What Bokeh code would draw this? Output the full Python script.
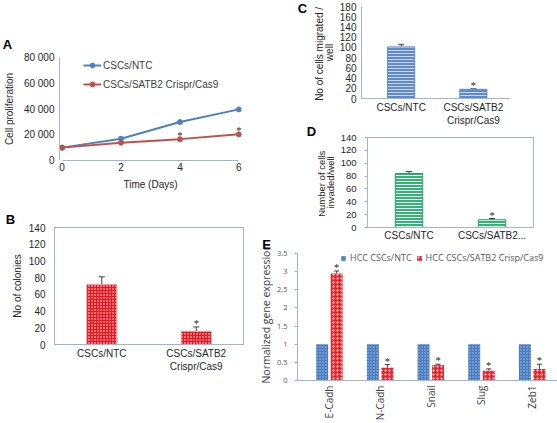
import math
import numpy as np
from bokeh.plotting import figure
from bokeh.models import (Range1d, FixedTicker, Legend, LegendItem, LabelSet,
                          Whisker, TeeHead, ColumnDataSource)
from bokeh.embed import file_html
from bokeh.resources import INLINE
from bokeh.core.properties import value

# ---------------- data ----------------
panel_letters = ["A", "B", "C", "D", "E"]

days = [0, 2, 4, 6]
prolif_ntc = [10000, 16900, 29900, 39700]
prolif_satb2 = [10000, 13800, 16600, 20300]
prolif_sig = [False, False, True, True]
prolif_yticks = [0, 20000, 40000, 60000, 80000]
prolif_ytick_labels = ["0", "20 000", "40 000", "60 000", "80 000"]
prolif_series = ["CSCs/NTC", "CSCs/SATB2 Crispr/Cas9"]

group_labels = ["CSCs/NTC", "CSCs/SATB2\nCrispr/Cas9"]
group_labels_d = ["CSCs/NTC", "CSCs/SATB2..."]

colonies = [72, 16]
colonies_err = [9, 5]
colonies_sig = [False, True]
colonies_yticks = [0, 20, 40, 60, 80, 100, 120, 140]

migrated = [101, 18]
migrated_err = [5, 1]
migrated_sig = [False, True]
migrated_yticks = [0, 20, 40, 60, 80, 100, 120, 140, 160, 180]

invaded = [84, 12]
invaded_err = [3, 2]
invaded_sig = [False, True]
invaded_yticks = [0, 20, 40, 60, 80, 100, 120, 140]

genes = ["E-Cadh", "N-Cadh", "Snail", "Slug", "Zeb1"]
expr_series = ["HCC CSCs/NTC", "HCC CSCs/SATB2 Crisp/Cas9"]
expr_ntc = [1.0, 1.0, 1.0, 1.0, 1.0]
expr_satb2 = [2.95, 0.35, 0.43, 0.27, 0.32]
expr_satb2_err = [0.07, 0.09, 0.02, 0.05, 0.13]
expr_satb2_sig = [True, True, True, True, True]
expr_yticks = [0, 0.5, 1, 1.5, 2, 2.5, 3, 3.5]
expr_ytick_labels = ["0", "0.5", "1", "1.5", "2", "2.5", "3", "3.5"]

# ---------------- style ----------------
FONT = "Liberation Sans"
EFONT = "Open Sans"
AXIS_BLUE = "#9fb4da"
TXT = "#262626"
BLUE = "#4f81bd"
RED = "#c0504d"


def pos(x, y):
    return {"position": "absolute", "left": f"{x}px", "top": f"{y}px"}


def make_fig(x, y, w, h, frame, xr, yr, outline=None):
    left, top, fw, fh = frame
    p = figure(width=w, height=h, x_range=xr, y_range=yr, output_backend="svg",
               toolbar_location=None, min_border_left=left,
               min_border_right=w - left - fw, min_border_top=top,
               min_border_bottom=h - top - fh, styles=pos(x, y))
    p.grid.visible = False
    p.outline_line_color = outline
    p.background_fill_color = None
    p.border_fill_color = None
    return p


def style_axis(ax, font, size, color, standoff, line_color, tick_out=0):
    ax.axis_line_color = line_color
    ax.major_tick_line_color = line_color if tick_out else None
    ax.major_tick_out = tick_out
    ax.major_tick_in = 0
    ax.minor_tick_line_color = None
    ax.major_label_text_font = font
    ax.major_label_text_font_size = size
    ax.major_label_text_color = color
    ax.major_label_standoff = standoff


def axis_title(ax, text, font=FONT, size="10px", color=TXT, standoff=5, line_height=1.0):
    ax.axis_label = text
    ax.axis_label_text_font = font
    ax.axis_label_text_font_size = size
    ax.axis_label_text_font_style = "normal"
    ax.axis_label_text_color = color
    ax.axis_label_standoff = standoff
    ax.axis_label_text_line_height = line_height


def add_errors(p, xs, vals, errs, color="#404040", head=6):
    src = ColumnDataSource(dict(x=list(xs), v=list(vals),
                                top=[v + e for v, e in zip(vals, errs)]))
    p.add_layout(Whisker(source=src, base="x", lower="v", upper="top",
                         line_color=color, line_width=1,
                         upper_head=TeeHead(size=head, line_color=color, line_width=1),
                         lower_head=None))


def add_stars(p, xs, tops, sig, size="10.5px"):
    src = ColumnDataSource(dict(x=[x for x, s in zip(xs, sig) if s],
                                y=[t for t, s in zip(tops, sig) if s]))
    src.data["t"] = ["*"] * len(src.data["x"])
    p.add_layout(LabelSet(x="x", y="y", text="t", source=src, text_font=FONT,
                          text_font_size=size, text_color="#262626",
                          text_align="center", text_baseline="alphabetic",
                          y_offset=0))


def letter_fig(letter, cx, cy):
    p = figure(width=20, height=20, x_range=Range1d(0, 1), y_range=Range1d(0, 1),
               x_axis_type=None, y_axis_type=None, min_border=0,
               toolbar_location=None, output_backend="svg",
               styles=pos(cx - 10, cy - 10))
    p.outline_line_color = None
    p.background_fill_color = None
    p.border_fill_color = None
    p.grid.visible = False
    p.text(x=[0.5], y=[0.5], text=[letter], text_font=value(FONT),
           text_font_size="13px", text_font_style="bold", text_color="#000000",
           text_align="center", text_baseline="middle")
    return p


# ---------------- A: proliferation ----------------
pa = make_fig(0, 0, 260, 200, (55, 57, 186, 103), Range1d(-0.09, 6.09), Range1d(0, 80000))
style_axis(pa.xaxis[0], FONT, "10px", TXT, 2, AXIS_BLUE)
style_axis(pa.yaxis[0], FONT, "10px", TXT, 5, AXIS_BLUE)
pa.xaxis.ticker = FixedTicker(ticks=days)
pa.xaxis.bounds = (days[0], days[-1])
pa.yaxis.ticker = FixedTicker(ticks=prolif_yticks)
pa.yaxis.major_label_overrides = {t: l for t, l in zip(prolif_yticks, prolif_ytick_labels)}
axis_title(pa.xaxis[0], "Time (Days)", standoff=5)
axis_title(pa.yaxis[0], "Cell proliferation", standoff=6)
r1 = pa.line(days, prolif_ntc, line_color=BLUE, line_width=2)
m1 = pa.scatter(days, prolif_ntc, marker="circle", size=5, color=BLUE)
r2 = pa.line(days, prolif_satb2, line_color=RED, line_width=2)
m2 = pa.scatter(days, prolif_satb2, marker="circle", size=5, color=RED)
add_stars(pa, days, prolif_satb2, prolif_sig)
leg_a = Legend(items=[LegendItem(label=prolif_series[0], renderers=[r1, m1]),
                      LegendItem(label=prolif_series[1], renderers=[r2, m2])],
               location=(24, 70), orientation="vertical", padding=0, margin=0,
               spacing=7, label_height=12, glyph_height=12, glyph_width=18,
               label_standoff=2, label_text_font=FONT, label_text_font_size="10px",
               label_text_color="#404040", border_line_color=None,
               background_fill_alpha=0)
pa.add_layout(leg_a)


def bar_panel(x, y, w, h, frame, xr, yr, yticks, labels, vals, errs, sig, bw,
              fill, hatch_pattern, hatch_color, hatch_scale, bar_line,
              outline=None, y_standoff=7, x_standoff=3, line_height=1.2,
              ytick_out=0, tick_size="10px", hatch_weight=1):
    p = make_fig(x, y, w, h, frame, xr, yr, outline=outline)
    style_axis(p.xaxis[0], FONT, "10px", TXT, x_standoff, AXIS_BLUE)
    style_axis(p.yaxis[0], FONT, tick_size, TXT, y_standoff, AXIS_BLUE, tick_out=ytick_out)
    xs = list(np.arange(len(vals)) + 0.5)
    p.xaxis.ticker = FixedTicker(ticks=xs)
    p.xaxis.major_label_overrides = {float(v): l for v, l in zip(xs, labels)}
    p.xaxis.major_label_text_line_height = line_height
    p.yaxis.ticker = FixedTicker(ticks=yticks)
    p.vbar(x=xs, top=vals, bottom=0, width=bw, fill_color=fill,
           hatch_pattern=hatch_pattern, hatch_color=hatch_color,
           hatch_scale=hatch_scale, hatch_weight=hatch_weight,
           line_color=bar_line, line_width=1)
    add_errors(p, xs, vals, errs)
    add_stars(p, xs, [v + e for v, e in zip(vals, errs)], sig)
    return p


# ---------------- B: colonies ----------------
pb = bar_panel(0, 200, 260, 190, (54, 27, 189, 117), Range1d(0, 2), Range1d(0, 140),
               colonies_yticks, group_labels, colonies, colonies_err, colonies_sig, 0.32,
               "#e8161f", "dot", "#ffffff", 3, "#c8b8c8",
               outline=AXIS_BLUE, y_standoff=9, x_standoff=3)
axis_title(pb.yaxis[0], "No of colonies", standoff=3)

# ---------------- C: migration ----------------
pc = bar_panel(290, 0, 267, 128, (71, 6, 148, 95), Range1d(-0.049, 2.0), Range1d(0, 180),
               migrated_yticks, group_labels, migrated, migrated_err, migrated_sig, 0.375,
               "#5f89c9", "horizontal_line", "#c9d7ef", 3, "#5f89c9",
               outline=None, y_standoff=5, x_standoff=3, line_height=1.2)
axis_title(pc.yaxis[0], "No of  cells migrated /\nwell", standoff=2, line_height=0.93)

# ---------------- D: invasion ----------------
pdv = bar_panel(290, 125, 267, 118, (77, 12, 166, 90), Range1d(0, 2), Range1d(0, 140),
                invaded_yticks, group_labels_d, invaded, invaded_err, invaded_sig, 0.33,
                "#2fb574", "horizontal_line", "#ffffff", 3, "#26a065",
                outline=AXIS_BLUE, y_standoff=8, x_standoff=2, ytick_out=3,
                tick_size="9.5px")
axis_title(pdv.yaxis[0], "Number of  cells\ninvaded/well", size="9.5px",
           standoff=2, line_height=0.8)

# ---------------- E: gene expression ----------------
pe = make_fig(255, 240, 302, 183, (41, 4, 261, 139), Range1d(-0.13, 5.0), Range1d(0, 3.75))
style_axis(pe.xaxis[0], EFONT, "10px", "#404040", 5, AXIS_BLUE)
style_axis(pe.yaxis[0], EFONT, "7.5px", "#595959", 7, AXIS_BLUE, tick_out=3)
gx = np.arange(len(genes)) + 0.5
pe.xaxis.ticker = FixedTicker(ticks=list(gx))
pe.xaxis.major_label_overrides = {float(v): g for v, g in zip(gx, genes)}
pe.xaxis.major_label_orientation = math.pi / 2
pe.yaxis.ticker = FixedTicker(ticks=expr_yticks)
pe.yaxis.bounds = (expr_yticks[0], expr_yticks[-1])
pe.yaxis.major_label_overrides = {t: l for t, l in zip(expr_yticks, expr_ytick_labels)}
axis_title(pe.yaxis[0], "Normalized  gene expression", font=EFONT, size="10.5px",
           color="#404040", standoff=1)
x_ntc = list(gx - 0.143)
x_sat = list(gx + 0.143)
b1 = pe.vbar(x=x_ntc, top=expr_ntc, bottom=0, width=0.236, fill_color="#4a7cc0",
             hatch_pattern="dot", hatch_color="#a9c2e6", hatch_scale=3, line_color=None)
b2 = pe.vbar(x=x_sat, top=expr_satb2, bottom=0, width=0.236, fill_color="#e8262d",
             hatch_pattern="dot", hatch_color="#ffffff", hatch_scale=4, line_color=None)
add_errors(pe, x_sat, expr_satb2, expr_satb2_err, head=5)
add_stars(pe, x_sat, [v + e for v, e in zip(expr_satb2, expr_satb2_err)], expr_satb2_sig)
leg_e = Legend(items=[LegendItem(label=expr_series[0], renderers=[b1]),
                      LegendItem(label=expr_series[1], renderers=[b2])],
               location=(43, 116), orientation="horizontal", padding=0, margin=0,
               spacing=4, label_height=6, glyph_height=6, glyph_width=6,
               label_standoff=4, label_text_font=EFONT, label_text_font_size="9px",
               label_text_color="#595959", border_line_color=None,
               background_fill_alpha=0)
pe.add_layout(leg_e)

# ---------------- panel letters ----------------
letter_centres = [(7, 44), (10, 219), (302, 8), (311, 131), (266, 244)]
letters = [letter_fig(l, cx, cy) for l, (cx, cy) in zip(panel_letters, letter_centres)]

roots = [pa, pb, pc, pdv, pe] + letters
open("out.html", "w").write(file_html(roots, INLINE))
